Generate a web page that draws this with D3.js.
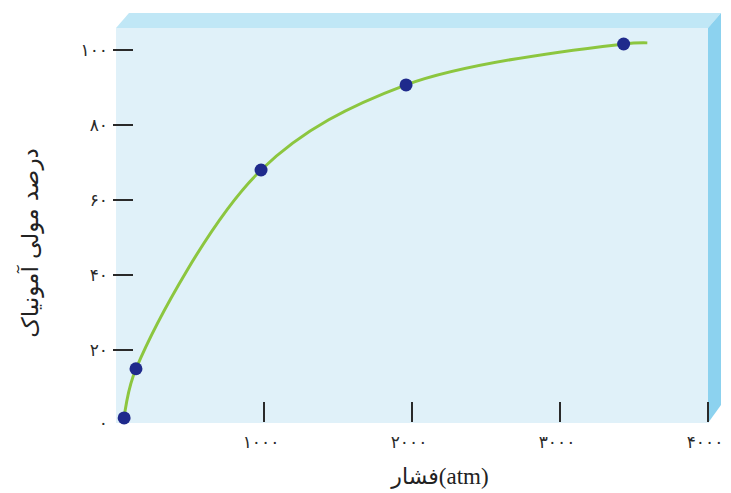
<!DOCTYPE html>
<html>
<head>
<meta charset="utf-8">
<script src="https://cdn.jsdelivr.net/npm/d3@7"></script>
<style>
  body { margin: 0; background: #fff; }
  text { font-family: "DejaVu Sans", sans-serif; }
</style>
</head>
<body>
<div id="chart-area"></div>
<script>
// pressure (atm) and ammonia mole percent
var pressure = [55, 135, 980, 1960, 3430];
var percent = [1.9, 15, 68, 90.7, 101.6];
// curve runs a little past the last point
var curveEnd = { p: 3590, v: 101.9 };

var xTicks = [1000, 2000, 3000, 4000];
var yTicks = [0, 20, 40, 60, 80, 100];

var toFa = function(n) {
    return String(n).replace(/\d/g, function(d) { return "۰۱۲۳۴۵۶۷۸۹"[+d]; });
};

var W = 731, H = 493;
var boxL = 116, boxR = 708, boxT = 28, boxB = 423;

var svg = d3.select("#chart-area")
    .append("svg")
        .attr("width", W)
        .attr("height", H);

var x = d3.scaleLinear().domain([0, 4000]).range([boxL, boxR]);
var y = d3.scaleLinear().domain([0, 100]).range([425, 50]);

// 3d box
svg.append("polygon")
    .attr("points", [[boxL, boxT], [boxL + 13, 13], [721, 13], [boxR, boxT]].join(" "))
    .attr("fill", "#c0e7f6");
svg.append("polygon")
    .attr("points", [[boxR, boxT], [721, 13], [721, 405], [boxR, boxB]].join(" "))
    .attr("fill", "#8cd2ef");
svg.append("rect")
    .attr("x", boxL).attr("y", boxT)
    .attr("width", boxR - boxL).attr("height", boxB - boxT)
    .attr("fill", "#e0f1f9");

// y ticks
var yt = svg.append("g").attr("class", "y-axis");
yt.selectAll("line")
    .data(yTicks.filter(function(d) { return d > 0; }))
    .enter().append("line")
        .attr("x1", 113).attr("x2", 133)
        .attr("y1", function(d) { return y(d); })
        .attr("y2", function(d) { return y(d); })
        .attr("stroke", "#2a2a2a")
        .attr("stroke-width", 2);
yt.selectAll("text")
    .data(yTicks)
    .enter().append("text")
        .attr("x", 108)
        .attr("y", function(d) { return d === 0 ? 423 : y(d); })
        .attr("dy", "0.35em")
        .attr("text-anchor", "end")
        .attr("font-size", 17)
        .attr("letter-spacing", 2)
        .attr("fill", "#2a2a2a")
        .text(function(d) { return toFa(d); });

// x ticks
var xt = svg.append("g").attr("class", "x-axis");
xt.selectAll("line")
    .data(xTicks)
    .enter().append("line")
        .attr("x1", function(d) { return x(d); })
        .attr("x2", function(d) { return x(d); })
        .attr("y1", 402).attr("y2", 422)
        .attr("stroke", "#2a2a2a")
        .attr("stroke-width", 2);
xt.selectAll("text")
    .data(xTicks)
    .enter().append("text")
        .attr("x", function(d) { return x(d) - 3; })
        .attr("y", 442)
        .attr("dy", "0.35em")
        .attr("text-anchor", "middle")
        .attr("font-size", 17)
        .attr("letter-spacing", 3)
        .attr("fill", "#2a2a2a")
        .text(function(d) { return toFa(d); });

// curve
var linePts = pressure.map(function(p, i) { return { p: p, v: percent[i] }; });
var line = d3.line()
    .x(function(d) { return x(d.p); })
    .y(function(d) { return y(d.v); })
    .curve(d3.curveCatmullRom.alpha(0.5));
svg.append("path")
    .datum(linePts.concat([curveEnd]))
    .attr("d", line)
    .attr("fill", "none")
    .attr("stroke", "#8cc63f")
    .attr("stroke-width", 3);

svg.selectAll("circle")
    .data(linePts)
    .enter().append("circle")
        .attr("cx", function(d) { return x(d.p); })
        .attr("cy", function(d) { return y(d.v); })
        .attr("r", 6.5)
        .attr("fill", "#1f2a8c");

// axis titles
var xl = svg.append("text")
    .attr("x", 440).attr("y", 478)
    .attr("dy", "0.35em")
    .attr("text-anchor", "middle")
    .attr("direction", "ltr")
    .attr("fill", "#222");
xl.append("tspan")
    .attr("font-size", 22)
    .text("فشار");
xl.append("tspan")
    .attr("font-family", "Liberation Serif")
    .attr("font-size", 23)
    .text("(atm)");

svg.append("text")
    .attr("transform", "translate(30, 243) rotate(-90)")
    .attr("dy", "0.35em")
    .attr("text-anchor", "middle")
    .attr("font-size", 23)
    .attr("fill", "#222")
    .text("درصد مولی آمونیاک");
</script>
</body>
</html>
